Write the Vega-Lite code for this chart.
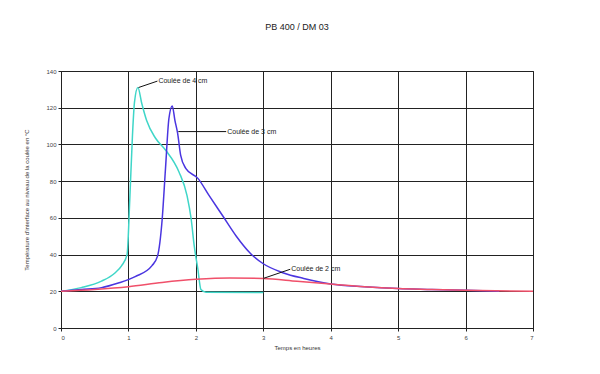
{
  "$schema": "https://vega.github.io/schema/vega-lite/v6.json",
  "autosize": {"type": "none"},
  "width": 472,
  "height": 257,
  "padding": {"left": 61, "top": 71, "right": 67, "bottom": 46},
  "background": "white",
  "title": {"text": "PB 400 / DM 03", "fontSize": 9, "font": "Liberation Sans", "fontWeight": "normal", "color": "#222", "offset": 36, "anchor": "middle"},
  "config": {
    "view": {"stroke": "#222", "strokeWidth": 1},
    "axis": {
      "gridColor": "#222", "gridOpacity": 1, "gridWidth": 1,
      "domainColor": "#222", "tickColor": "#222", "tickSize": 3,
      "labelFont": "Liberation Sans", "labelFontSize": 6, "labelColor": "#444", "labelOverlap": false,
      "titleFont": "Liberation Sans", "titleFontSize": 6, "titleFontWeight": "normal", "titleColor": "#333"
    }
  },
  "datasets": {
    "curves": [
      {"serie": "Coulée de 4 cm", "t": 0, "temp": 20},
      {"serie": "Coulée de 4 cm", "t": 0.3, "temp": 22},
      {"serie": "Coulée de 4 cm", "t": 0.6, "temp": 25.5},
      {"serie": "Coulée de 4 cm", "t": 0.8, "temp": 30},
      {"serie": "Coulée de 4 cm", "t": 0.9, "temp": 34},
      {"serie": "Coulée de 4 cm", "t": 0.98, "temp": 40},
      {"serie": "Coulée de 4 cm", "t": 1.02, "temp": 70},
      {"serie": "Coulée de 4 cm", "t": 1.06, "temp": 105},
      {"serie": "Coulée de 4 cm", "t": 1.09, "temp": 123},
      {"serie": "Coulée de 4 cm", "t": 1.14, "temp": 131},
      {"serie": "Coulée de 4 cm", "t": 1.2, "temp": 122},
      {"serie": "Coulée de 4 cm", "t": 1.27, "temp": 113},
      {"serie": "Coulée de 4 cm", "t": 1.4, "temp": 103.5},
      {"serie": "Coulée de 4 cm", "t": 1.55, "temp": 97},
      {"serie": "Coulée de 4 cm", "t": 1.75, "temp": 85},
      {"serie": "Coulée de 4 cm", "t": 1.87, "temp": 72},
      {"serie": "Coulée de 4 cm", "t": 1.93, "temp": 59.5},
      {"serie": "Coulée de 4 cm", "t": 1.975, "temp": 45},
      {"serie": "Coulée de 4 cm", "t": 2.03, "temp": 32},
      {"serie": "Coulée de 4 cm", "t": 2.075, "temp": 21},
      {"serie": "Coulée de 4 cm", "t": 2.15, "temp": 19.5},
      {"serie": "Coulée de 4 cm", "t": 3.0, "temp": 19.3},
      {"serie": "Coulée de 3 cm", "t": 0, "temp": 20},
      {"serie": "Coulée de 3 cm", "t": 0.3, "temp": 21},
      {"serie": "Coulée de 3 cm", "t": 0.6, "temp": 22},
      {"serie": "Coulée de 3 cm", "t": 0.85, "temp": 24.5},
      {"serie": "Coulée de 3 cm", "t": 1.1, "temp": 28},
      {"serie": "Coulée de 3 cm", "t": 1.35, "temp": 34},
      {"serie": "Coulée de 3 cm", "t": 1.43, "temp": 39},
      {"serie": "Coulée de 3 cm", "t": 1.5, "temp": 59},
      {"serie": "Coulée de 3 cm", "t": 1.55, "temp": 87},
      {"serie": "Coulée de 3 cm", "t": 1.6, "temp": 114},
      {"serie": "Coulée de 3 cm", "t": 1.65, "temp": 121},
      {"serie": "Coulée de 3 cm", "t": 1.69, "temp": 113},
      {"serie": "Coulée de 3 cm", "t": 1.73, "temp": 106},
      {"serie": "Coulée de 3 cm", "t": 1.775, "temp": 94},
      {"serie": "Coulée de 3 cm", "t": 1.85, "temp": 87},
      {"serie": "Coulée de 3 cm", "t": 2.03, "temp": 81.5},
      {"serie": "Coulée de 3 cm", "t": 2.2, "temp": 72},
      {"serie": "Coulée de 3 cm", "t": 2.4, "temp": 61},
      {"serie": "Coulée de 3 cm", "t": 2.6, "temp": 50},
      {"serie": "Coulée de 3 cm", "t": 2.8, "temp": 41},
      {"serie": "Coulée de 3 cm", "t": 3.0, "temp": 35},
      {"serie": "Coulée de 3 cm", "t": 3.3, "temp": 30},
      {"serie": "Coulée de 3 cm", "t": 3.6, "temp": 27},
      {"serie": "Coulée de 3 cm", "t": 4.0, "temp": 24},
      {"serie": "Coulée de 3 cm", "t": 4.5, "temp": 22.5},
      {"serie": "Coulée de 3 cm", "t": 5.0, "temp": 21.5},
      {"serie": "Coulée de 3 cm", "t": 5.5, "temp": 21},
      {"serie": "Coulée de 3 cm", "t": 6.0, "temp": 20.5},
      {"serie": "Coulée de 3 cm", "t": 6.5, "temp": 20},
      {"serie": "Coulée de 2 cm", "t": 0, "temp": 20},
      {"serie": "Coulée de 2 cm", "t": 0.5, "temp": 21},
      {"serie": "Coulée de 2 cm", "t": 1.0, "temp": 22.5},
      {"serie": "Coulée de 2 cm", "t": 1.5, "temp": 24.8},
      {"serie": "Coulée de 2 cm", "t": 2.0, "temp": 26.5},
      {"serie": "Coulée de 2 cm", "t": 2.5, "temp": 27.3},
      {"serie": "Coulée de 2 cm", "t": 3.0, "temp": 27},
      {"serie": "Coulée de 2 cm", "t": 3.5, "temp": 25.5},
      {"serie": "Coulée de 2 cm", "t": 4.0, "temp": 24},
      {"serie": "Coulée de 2 cm", "t": 4.5, "temp": 22.5},
      {"serie": "Coulée de 2 cm", "t": 5.0, "temp": 21.5},
      {"serie": "Coulée de 2 cm", "t": 5.5, "temp": 21},
      {"serie": "Coulée de 2 cm", "t": 6.0, "temp": 20.5},
      {"serie": "Coulée de 2 cm", "t": 7.0, "temp": 20}
    ],
    "labels": [
      {"label": "Coulée de 4 cm", "tx": 1.43, "ty": 134.5, "px": 1.15, "py": 131},
      {"label": "Coulée de 3 cm", "tx": 2.45, "ty": 107, "px": 1.74, "py": 107},
      {"label": "Coulée de 2 cm", "tx": 3.4, "ty": 32, "px": 3.0, "py": 27}
    ]
  },
  "layer": [
    {
      "data": {"name": "curves"},
      "mark": {"type": "line", "strokeWidth": 1.5, "interpolate": "monotone"},
      "encoding": {
        "x": {"field": "t", "type": "quantitative", "scale": {"domain": [0, 7], "nice": false}, "axis": {"values": [0,1,2,3,4,5,6,7], "format": "d", "title": "Temps en heures", "titlePadding": 4, "labelPadding": 3}},
        "y": {"field": "temp", "type": "quantitative", "scale": {"domain": [0, 140], "nice": false}, "axis": {"values": [0,20,40,60,80,100,120,140], "format": "d", "title": "Température d'interface au niveau de la coulée en °C", "titlePadding": 16}},
        "color": {"field": "serie", "type": "nominal", "legend": null, "scale": {"domain": ["Coulée de 4 cm", "Coulée de 3 cm", "Coulée de 2 cm"], "range": ["#3FD6C8", "#4A35E0", "#F0506A"]}},
        "detail": {"field": "serie"}
      }
    },
    {
      "data": {"name": "labels"},
      "mark": {"type": "rule", "color": "#111", "strokeWidth": 1},
      "encoding": {
        "x": {"field": "px", "type": "quantitative", "axis": {"values": [0,1,2,3,4,5,6,7], "format": "d", "title": "Temps en heures", "titlePadding": 4, "labelPadding": 3}},
        "y": {"field": "py", "type": "quantitative", "axis": {"values": [0,20,40,60,80,100,120,140], "format": "d", "title": "Température d'interface au niveau de la coulée en °C", "titlePadding": 16}},
        "x2": {"field": "tx"},
        "y2": {"field": "ty"}
      }
    },
    {
      "data": {"name": "labels"},
      "mark": {"type": "text", "align": "left", "baseline": "middle", "dx": 1, "font": "Liberation Sans", "fontSize": 7, "color": "#222"},
      "encoding": {
        "x": {"field": "tx", "type": "quantitative", "axis": {"values": [0,1,2,3,4,5,6,7], "format": "d", "title": "Temps en heures", "titlePadding": 4, "labelPadding": 3}},
        "y": {"field": "ty", "type": "quantitative", "axis": {"values": [0,20,40,60,80,100,120,140], "format": "d", "title": "Température d'interface au niveau de la coulée en °C", "titlePadding": 16}},
        "text": {"field": "label"}
      }
    }
  ]
}
